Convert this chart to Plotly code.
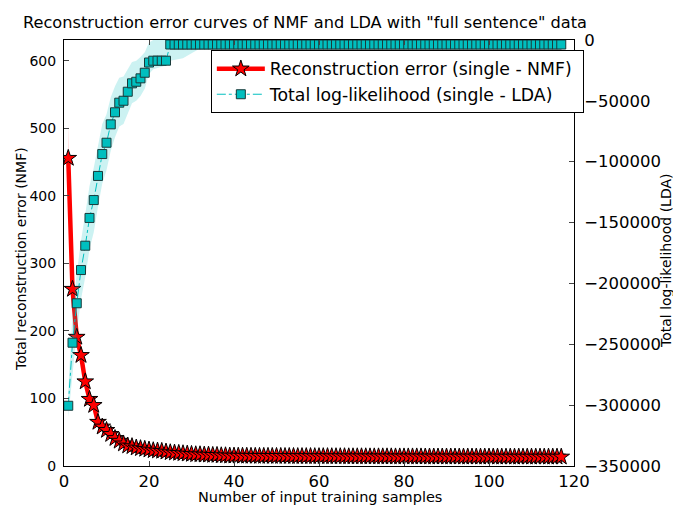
import plotly.graph_objects as go

# ---------------- data ----------------
samples = list(range(1, 118))

nmf_error = [
    456, 262, 191, 164, 125, 99, 90, 65, 58, 53,
    47, 41, 37, 33, 30, 29, 27, 26, 25, 24,
    23, 22.5, 22, 21, 20, 19.5, 19, 18.5, 18, 17.5,
    17, 17, 16.5, 16.5, 16, 16, 15.5, 15.5, 15, 15,
    14.9, 14.8, 14.8, 14.7, 14.7, 14.6, 14.6, 14.6, 14.5, 14.5,
    14.5, 14.4, 14.4, 14.4, 14.3, 14.3, 14.3, 14.3, 14.2, 14.2,
    14.2, 14.2, 14.1, 14.1, 14.1, 14.1, 14.0, 14.0, 14.0, 14.0,
    14.0, 13.9, 13.9, 13.9, 13.9, 13.9, 13.9, 13.8, 13.8, 13.8,
    13.8, 13.8, 13.8, 13.8, 13.7, 13.7, 13.7, 13.7, 13.7, 13.7,
    13.7, 13.7, 13.6, 13.6, 13.6, 13.6, 13.6, 13.6, 13.6, 13.6,
    13.6, 13.6, 13.5, 13.5, 13.5, 13.5, 13.5, 13.5, 13.5, 13.5,
    13.5, 13.5, 13.5, 13.5, 13.5, 13.5, 13.5,
]

nmf_spread = [
    52, 18, 14, 12, 11, 10, 9, 9, 8, 8,
    7, 7, 7, 7, 6, 6, 6, 6, 6, 6,
    5, 5, 5, 5, 5, 5, 5, 5, 5, 5,
    4, 4, 4, 4, 4, 4, 4, 4, 4, 4,
    3, 3, 3, 3, 3, 3, 3, 3, 3, 3,
    3, 3, 3, 3, 3, 3, 3, 3, 3, 3,
    3, 3, 3, 3, 3, 3, 3, 3, 3, 3,
    3, 3, 3, 3, 3, 3, 3, 3, 3, 3,
    3, 3, 3, 3, 3, 3, 3, 3, 3, 3,
    3, 3, 3, 3, 3, 3, 3, 3, 3, 3,
    3, 3, 3, 3, 3, 3, 3, 3, 3, 3,
    3, 3, 3, 3, 3, 3, 3,
]

lda_loglik = [
    -300500, -248700, -216300, -189000, -169000, -146200, -131500, -111700, -93700, -84400,
    -69300, -59400, -51500, -49900, -42500, -35600, -34300, -31500, -26900, -18500,
    -17000, -17000, -17000, -17000, -3700, -3700, -3700, -3700, -3700, -3700,
    -3700, -3700, -3700, -3700, -3700, -3700, -3700, -3700, -3700, -3700,
    -3700, -3700, -3700, -3700, -3700, -3700, -3700, -3700, -3700, -3700,
    -3700, -3700, -3700, -3700, -3700, -3700, -3700, -3700, -3700, -3700,
    -3700, -3700, -3700, -3700, -3700, -3700, -3700, -3700, -3700, -3700,
    -3700, -3700, -3700, -3700, -3700, -3700, -3700, -3700, -3700, -3700,
    -3700, -3700, -3700, -3700, -3700, -3700, -3700, -3700, -3700, -3700,
    -3700, -3700, -3700, -3700, -3700, -3700, -3700, -3700, -3700, -3700,
    -3700, -3700, -3700, -3700, -3700, -3700, -3700, -3700, -3700, -3700,
    -3700, -3700, -3700, -3700, -3700, -3700, -3700,
]

lda_band_samples = list(range(1, 35))
lda_band_high = [
    -288000, -225000, -192000, -165000, -143000, -120000, -105000, -86000, -69000, -61000,
    -47000, -38000, -31000, -30000, -24000, -18000, -17000, -14000, -10000, -2000,
    0, 0, 0, 0, 0, 0, 0, 0, 0, 0,
    0, 0, 0, -3700,
]
lda_band_low = [
    -310000, -272000, -240000, -213000, -195000, -172000, -158000, -137000, -118000, -107000,
    -91000, -80000, -71000, -69000, -60000, -52000, -50000, -46000, -40000, -28000,
    -24000, -23000, -22000, -21000, -17000, -16500, -16000, -15000, -13000, -11000,
    -8500, -6500, -5000, -3700,
]

x_ticks = [0, 20, 40, 60, 80, 100, 120]
nmf_ticks = [0, 100, 200, 300, 400, 500, 600]
lda_ticks = [-350000, -300000, -250000, -200000, -150000, -100000, -50000, 0]

# ---------------- styling ----------------
RED = "#FF0000"
CYAN = "#00BFBF"
FONT = "DejaVu Sans"

L, R, T, B = 64, 88, 40, 41
W, H = 673, 507
PW, PH = W - L - R, H - T - B


def px_x(p):
    return (p - L) / PW


def px_y(p):
    return (H - B - p) / PH


fig = go.Figure()

# NMF band
nmf_hi = [m + s for m, s in zip(nmf_error, nmf_spread)]
nmf_lo = [m - s for m, s in zip(nmf_error, nmf_spread)]
fig.add_trace(go.Scatter(x=samples, y=nmf_lo, mode="lines", line=dict(width=0),
                         showlegend=False, hoverinfo="skip", yaxis="y"))
fig.add_trace(go.Scatter(x=samples, y=nmf_hi, mode="lines", line=dict(width=0),
                         fill="tonexty", fillcolor="rgba(255,0,0,0.2)",
                         showlegend=False, hoverinfo="skip", yaxis="y"))
fig.add_trace(go.Scatter(
    x=samples, y=nmf_error, mode="lines+markers",
    name="Reconstruction error (single - NMF)\u00a0", legendrank=1,
    line=dict(color=RED, width=4.5),
    marker=dict(symbol="star", size=12.5, color=RED, line=dict(color="black", width=1)),
    yaxis="y",
))

# LDA band
fig.add_trace(go.Scatter(x=lda_band_samples, y=lda_band_low, mode="lines", line=dict(width=0),
                         showlegend=False, hoverinfo="skip", yaxis="y2"))
fig.add_trace(go.Scatter(x=lda_band_samples, y=lda_band_high, mode="lines", line=dict(width=0),
                         fill="tonexty", fillcolor="rgba(0,191,191,0.2)",
                         showlegend=False, hoverinfo="skip", yaxis="y2"))
fig.add_trace(go.Scatter(
    x=samples, y=lda_loglik, mode="lines+markers",
    name="Total log-likelihood (single - LDA)", legendrank=2,
    line=dict(color=CYAN, width=1, dash="dashdot"),
    marker=dict(symbol="square", size=9, color=CYAN, line=dict(color="#1a3a3a", width=1)),
    yaxis="y2",
))

fig.update_layout(
    width=W, height=H,
    margin=dict(l=L, r=R, t=T, b=B, pad=0),
    paper_bgcolor="white", plot_bgcolor="white",
    font=dict(family=FONT, color="black"),
    title=dict(text='Reconstruction error curves of NMF and LDA with "full sentence" data',
               x=305 / W, xanchor="center", xref="container",
               y=1 - 22 / H, yanchor="middle", yref="container",
               font=dict(size=16.2, family=FONT)),
    xaxis=dict(range=[0, 120], tickvals=x_ticks, ticks="inside", ticklen=5,
               showline=True, linecolor="black", linewidth=1, mirror="ticks",
               showgrid=False, zeroline=False, tickfont=dict(size=16.5)),
    yaxis=dict(range=[0, 631], tickvals=nmf_ticks, ticks="inside", ticklen=5,
               showline=True, linecolor="black", linewidth=1,
               showgrid=False, zeroline=False, tickfont=dict(size=14),
               ticklabelstandoff=4),
    yaxis2=dict(range=[-350000, 0], tickvals=lda_ticks, overlaying="y", side="right",
                ticks="inside", ticklen=5, showline=True, linecolor="black", linewidth=1,
                showgrid=False, zeroline=False, tickfont=dict(size=16.5),
                ticklabelstandoff=6,
                ticktext=[("\u2212" + str(-v)) if v < 0 else str(v) for v in lda_ticks]),
    legend=dict(x=px_x(214), y=px_y(50), xanchor="left", yanchor="top",
                bgcolor="white", bordercolor="black", borderwidth=1,
                font=dict(size=17.3, family=FONT), itemwidth=48, tracegroupgap=0,
                traceorder="normal"),
    showlegend=True,
    annotations=[
        dict(text="Number of input training samples", xref="paper", yref="paper",
             x=px_x(326), y=px_y(497), showarrow=False, xanchor="center", yanchor="middle",
             font=dict(size=14.5, family=FONT)),
        dict(text="Total reconstruction error (NMF)", xref="paper", yref="paper",
             x=px_x(20), y=px_y(259), showarrow=False, textangle=-90,
             xanchor="center", yanchor="middle", font=dict(size=14, family=FONT)),
        dict(text="Total log-likelihood (LDA)", xref="paper", yref="paper",
             x=px_x(679), y=px_y(261), showarrow=False, textangle=-90,
             xanchor="center", yanchor="middle", font=dict(size=14, family=FONT)),
    ],
)

fig.write_html("out.html", config={"displayModeBar": False},
               post_script="document.body.style.margin='0px';")
